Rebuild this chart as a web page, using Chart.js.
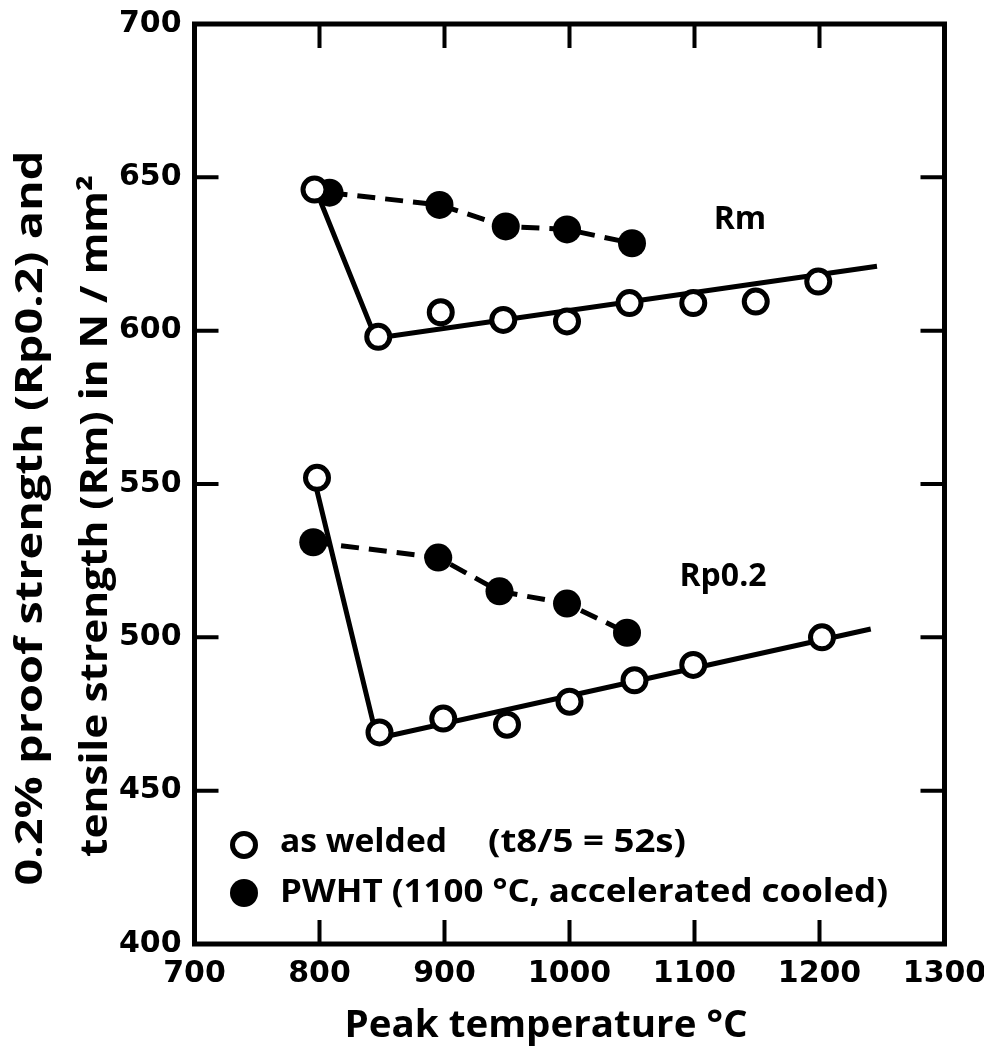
<!DOCTYPE html>
<html>
<head>
<meta charset="utf-8">
<title>Peak temperature vs strength</title>
<script src="https://cdn.jsdelivr.net/npm/chart.js@4/dist/chart.umd.min.js"></script>
<style>
    html, body { margin: 0; padding: 0; background: #fff; }
    #wrap { width: 984px; height: 1051px; position: relative; }
</style>
</head>
<body>
<div id="wrap"><canvas id="strength-chart"></canvas></div>
<script>
// Tick values
var xTicks = [700, 800, 900, 1000, 1100, 1200, 1300];
var yTicks = [400, 450, 500, 550, 600, 650, 700];

// Rm, as welded (open circles)
var rmWeldedTemp = [796, 847, 897, 947, 998, 1048, 1099, 1149, 1199];
var rmWeldedVal  = [646, 598, 606, 603.5, 603, 609, 609, 609.5, 616];
// Rm, as welded trend line
var rmFitTemp = [796, 845, 1246];
var rmFitVal  = [647, 597.5, 621];
// Rm, PWHT (filled circles)
var rmPwhtTemp = [808, 896, 949, 998, 1050];
var rmPwhtVal  = [645, 641, 634, 633, 628.5];

// Rp0.2, as welded
var rpWeldedTemp = [798, 848, 899, 950, 1000, 1052, 1099, 1202];
var rpWeldedVal  = [552, 469, 473.5, 471.5, 479, 486, 491, 500];
// Rp0.2, as welded trend line
var rpFitTemp = [795.5, 846, 1241];
var rpFitVal  = [552, 467, 502.7];
// Rp0.2, PWHT
var rpPwhtTemp = [795, 895, 944, 998, 1046];
var rpPwhtVal  = [531, 526, 515, 511, 501.5];

function toPoints(xs, ys) {
    return xs.map(function(x, i) { return { x: x, y: ys[i] }; });
}

var openPoint = {
    showLine: false,
    pointRadius: 11.5,
    pointBorderWidth: 5,
    pointBackgroundColor: '#fff',
    pointBorderColor: '#000',
    order: 1
};
var fitLine = {
    showLine: true,
    borderColor: '#000',
    borderWidth: 5,
    pointRadius: 0,
    order: 3
};
var pwhtLine = {
    showLine: true,
    borderColor: '#000',
    borderWidth: 5,
    borderDash: [18, 10],
    pointRadius: 14,
    pointBorderWidth: 0,
    pointBackgroundColor: '#000',
    order: 2
};

function ds(base, data) {
    return Object.assign({ data: data }, base);
}

var TICK_LEN = 24;

// draw text horizontally squeezed/stretched to a given length
function fitText(ctx, text, x, y, len, angle) {
    var w = ctx.measureText(text).width;
    ctx.save();
    ctx.translate(x, y);
    if (angle) ctx.rotate(angle);
    ctx.scale(len / w, 1);
    ctx.fillText(text, 0, 0);
    ctx.restore();
}

/**
 * Frame, inward ticks, titles, legend and curve labels
 */
var decorations = {
    id: 'decorations',
    afterDraw: function(chart) {
        var ctx = chart.ctx;
        var a = chart.chartArea;
        var xs = chart.scales.x;
        var ys = chart.scales.y;

        ctx.save();
        ctx.strokeStyle = '#000';
        ctx.lineWidth = 4;
        ctx.lineCap = 'butt';

        // inward ticks on all four sides
        xTicks.forEach(function(v) {
            if (v === xs.min || v === xs.max) return;
            var px = xs.getPixelForValue(v);
            ctx.beginPath();
            ctx.moveTo(px, a.bottom); ctx.lineTo(px, a.bottom - TICK_LEN);
            ctx.moveTo(px, a.top); ctx.lineTo(px, a.top + TICK_LEN);
            ctx.stroke();
        });
        yTicks.forEach(function(v) {
            if (v === ys.min || v === ys.max) return;
            var py = ys.getPixelForValue(v);
            ctx.beginPath();
            ctx.moveTo(a.left, py); ctx.lineTo(a.left + TICK_LEN, py);
            ctx.moveTo(a.right, py); ctx.lineTo(a.right - TICK_LEN, py);
            ctx.stroke();
        });

        // frame
        ctx.lineWidth = 5;
        ctx.strokeRect(a.left, a.top, a.right - a.left, a.bottom - a.top);

        ctx.fillStyle = '#000';
        ctx.textBaseline = 'middle';

        // y axis title, two rotated lines
        ctx.textAlign = 'center';
        ctx.font = 'bold 37px "Open Sans"';
        fitText(ctx, '0.2% proof strength (Rp0.2) and', 31, 518, 735, -Math.PI / 2);
        fitText(ctx, 'tensile strength (Rm) in N / mm\u00B2', 96, 516, 682, -Math.PI / 2);

        // x axis title
        ctx.font = 'bold 37px "Open Sans"';
        fitText(ctx, 'Peak temperature \u00B0C', 546, 1026, 403);

        // curve labels
        ctx.font = 'bold 32px "Open Sans"';
        ctx.fillText('Rm', 740, 220);
        ctx.fillText('Rp0.2', 723, 577);

        // legend
        ctx.beginPath();
        ctx.arc(244, 845, 11.5, 0, Math.PI * 2);
        ctx.fillStyle = '#fff';
        ctx.fill();
        ctx.lineWidth = 5;
        ctx.stroke();
        ctx.beginPath();
        ctx.arc(244, 893, 14, 0, Math.PI * 2);
        ctx.fillStyle = '#000';
        ctx.fill();

        ctx.font = 'bold 33px "Open Sans"';
        ctx.textAlign = 'left';
        fitText(ctx, 'as welded', 280, 843, 167);
        fitText(ctx, '(t8/5 = 52s)', 488, 843, 198);
        fitText(ctx, 'PWHT (1100 \u00B0C, accelerated cooled)', 280, 893, 608);
        ctx.restore();
    }
};

function plainLabel(value) {
    return String(value);
}

new Chart(document.getElementById('strength-chart').getContext('2d'), {
    type: 'scatter',
    data: {
        datasets: [
            ds(openPoint, toPoints(rmWeldedTemp, rmWeldedVal)),
            ds(fitLine, toPoints(rmFitTemp, rmFitVal)),
            ds(pwhtLine, toPoints(rmPwhtTemp, rmPwhtVal)),
            ds(openPoint, toPoints(rpWeldedTemp, rpWeldedVal)),
            ds(fitLine, toPoints(rpFitTemp, rpFitVal)),
            ds(pwhtLine, toPoints(rpPwhtTemp, rpPwhtVal))
        ]
    },
    options: {
        responsive: true,
        maintainAspectRatio: false,
        animation: false,
        layout: {
            padding: { top: 24, right: 39.5, left: 0, bottom: 0 }
        },
        plugins: {
            legend: { display: false },
            tooltip: { enabled: false }
        },
        scales: {
            x: {
                type: 'linear',
                min: 700,
                max: 1300,
                afterBuildTicks: function(scale) {
                    scale.ticks = xTicks.map(function(v) { return { value: v }; });
                },
                afterFit: function(scale) {
                    scale.height = 107;
                    scale.paddingLeft = 0;
                    scale.paddingRight = 0;
                },
                grid: { display: false, drawTicks: false },
                border: { display: false },
                ticks: {
                    padding: 12,
                    color: '#000',
                    maxRotation: 0,
                    callback: plainLabel,
                    font: { family: '"DejaVu Sans"', size: 30, weight: 'bold' }
                }
            },
            y: {
                type: 'linear',
                min: 400,
                max: 700,
                afterBuildTicks: function(scale) {
                    scale.ticks = yTicks.map(function(v) { return { value: v }; });
                },
                afterFit: function(scale) {
                    scale.width = 194.5;
                    scale.paddingTop = 0;
                    scale.paddingBottom = 0;
                },
                grid: { display: false, drawTicks: false },
                border: { display: false },
                ticks: {
                    padding: 13,
                    color: '#000',
                    callback: plainLabel,
                    font: { family: '"DejaVu Sans"', size: 30, weight: 'bold' }
                }
            }
        }
    },
    plugins: [decorations]
});
</script>
</body>
</html>
